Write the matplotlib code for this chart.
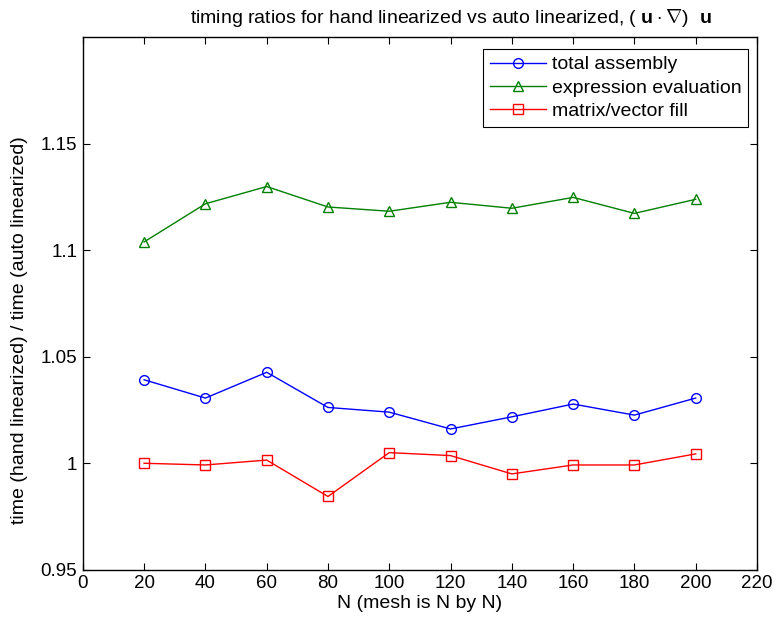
import matplotlib
matplotlib.use("Agg")
import matplotlib.pyplot as plt

# mesh sizes and timing ratios
mesh_n = [20, 40, 60, 80, 100, 120, 140, 160, 180, 200]
total_assembly = [1.0392, 1.0306, 1.0427, 1.0262, 1.0240, 1.0161, 1.0218, 1.0278, 1.0226, 1.0306]
expression_eval = [1.1039, 1.1218, 1.1299, 1.1203, 1.1183, 1.1225, 1.1197, 1.1248, 1.1173, 1.1239]
matrix_fill = [1.0000, 0.9992, 1.0015, 0.9844, 1.0050, 1.0036, 0.9950, 0.9992, 0.9992, 1.0044]

x_ticks = [0, 20, 40, 60, 80, 100, 120, 140, 160, 180, 200, 220]
y_ticks = [0.95, 1.0, 1.05, 1.1, 1.15]
y_labels = ["0.95", "1", "1.05", "1.1", "1.15"]

plt.rcParams["font.family"] = ["Liberation Sans", "DejaVu Sans"]
plt.rcParams["mathtext.fontset"] = "custom"
plt.rcParams["mathtext.rm"] = "Liberation Sans"
plt.rcParams["mathtext.bf"] = "Liberation Sans:bold"

fig = plt.figure(figsize=(7.74, 6.2), dpi=100)
ax = fig.add_axes([0.107, 0.081, 0.871, 0.859])

style = dict(markerfacecolor="none", markersize=7, linewidth=1.0, markeredgewidth=1.0)
ax.plot(mesh_n, total_assembly, "-o", color="#0000ff", label="total assembly", **style)
ax.plot(mesh_n, expression_eval, "-^", color="#008000", label="expression evaluation", **style)
ax.plot(mesh_n, matrix_fill, "-s", color="#ff0000", label="matrix/vector fill", **style)

ax.set_xlim(0, 220)
ax.set_ylim(0.95, 1.2)
ax.set_xticks(x_ticks)
ax.set_yticks(y_ticks)
ax.set_yticklabels(y_labels)
ax.tick_params(direction="in", length=5, width=0.8, top=True, right=True,
               labelsize=13.5, pad=4)
for s in ax.spines.values():
    s.set_linewidth(1.0)

ax.set_xlabel("N (mesh is N by N)", fontsize=14, labelpad=2)
ax.set_ylabel("time (hand linearized) / time (auto linearized)", fontsize=14)
ax.yaxis.set_label_coords(-0.082, 0.45)

fig.text(0.583, 0.971,
         r"timing ratios for hand linearized vs auto linearized, ( $\mathbf{u}\cdot\nabla$)  $\mathbf{u}$",
         ha="center", va="center", fontsize=14)

leg = ax.legend(loc="upper right", bbox_to_anchor=(0.987, 0.978), fontsize=14,
                fancybox=False, edgecolor="black", framealpha=1,
                handlelength=2.9, borderpad=0.35, labelspacing=0.3, handletextpad=0.3,
                borderaxespad=0)
leg.get_frame().set_linewidth(0.8)

fig.savefig("out.png", dpi=100)
